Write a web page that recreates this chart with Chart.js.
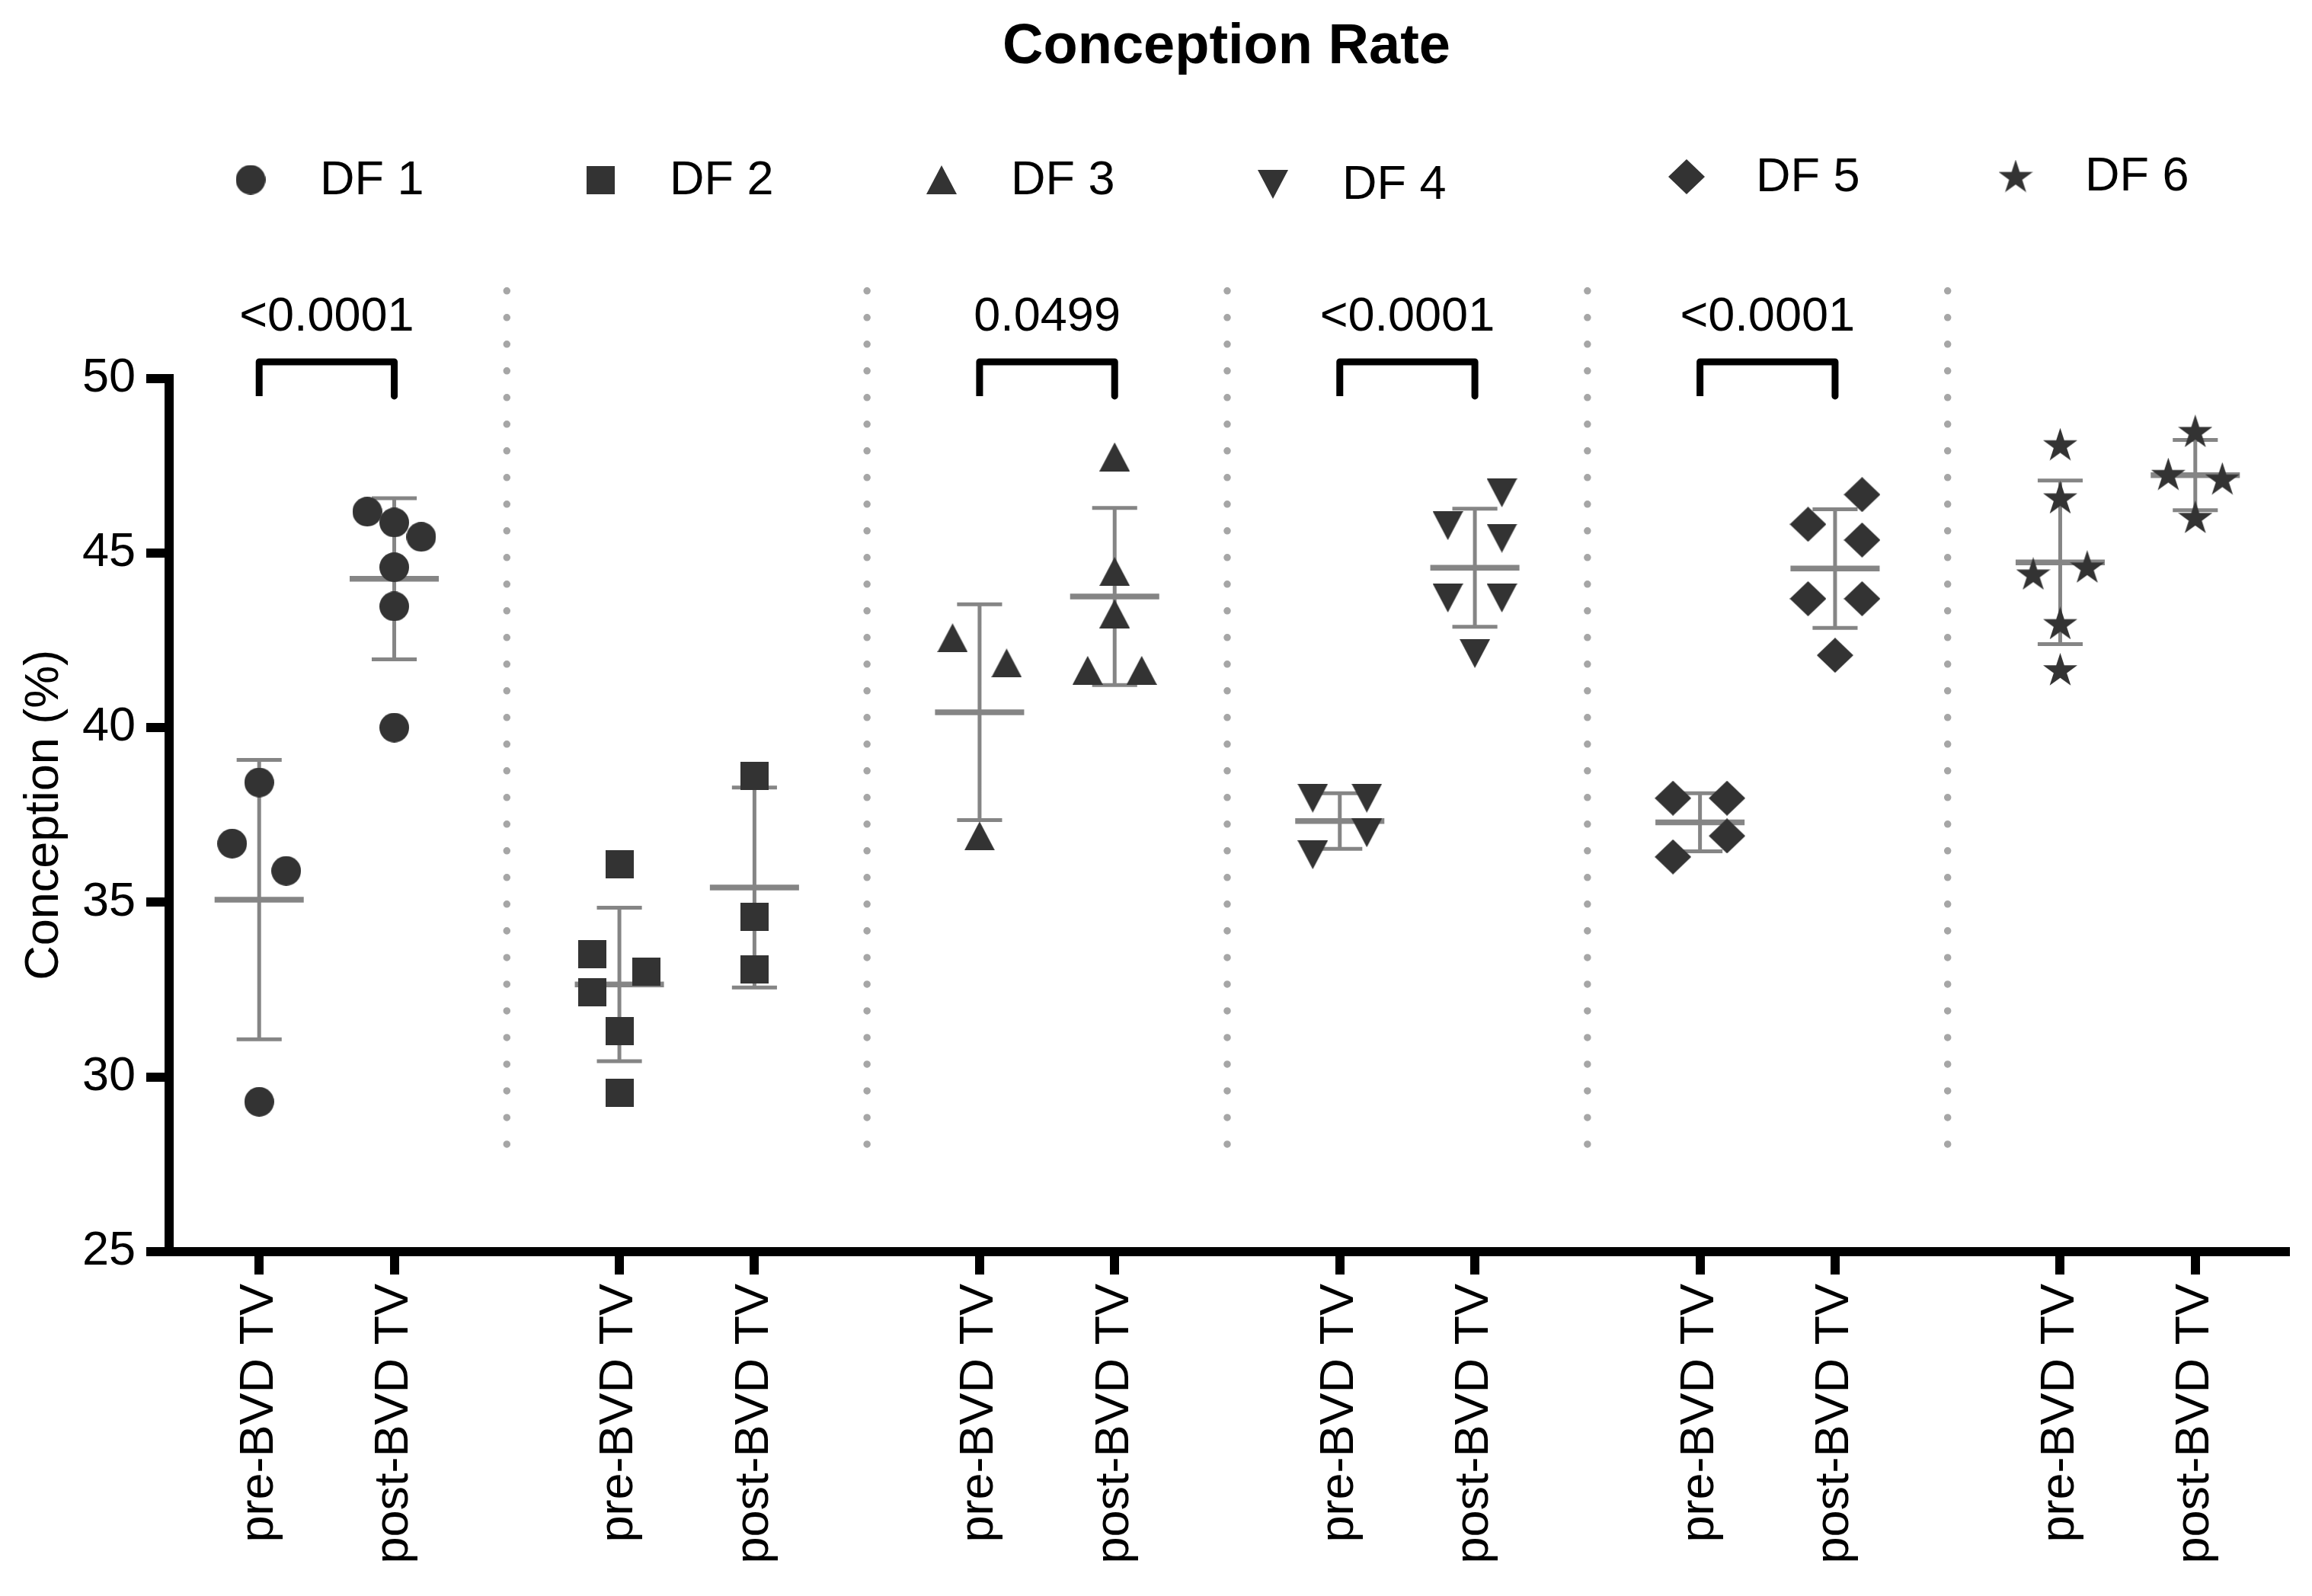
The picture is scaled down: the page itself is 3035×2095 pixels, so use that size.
<!DOCTYPE html>
<html>
<head>
<meta charset="utf-8">
<title>Conception Rate</title>
<script src="https://cdn.jsdelivr.net/npm/chart.js@4.4.1/dist/chart.umd.min.js"></script>
<style>
    html, body { margin: 0; padding: 0; background: #ffffff; }
    #wrap { width: 3035px; height: 2095px; }
</style>
</head>
<body>
<div id="wrap"><canvas id="conceptionChart"></canvas></div>
<script>
// Groups, axis labels and p-values
const groupNames = ["DF 1", "DF 2", "DF 3", "DF 4", "DF 5", "DF 6"];
const tickLabels = ["pre-BVD TV", "post-BVD TV"];
const pValues = ["<0.0001", "", "0.0499", "<0.0001", "<0.0001", ""];

// Conception (%) per farm
const preValues = [
    [36.68, 38.43, 35.90, 29.29],
    [36.08, 33.51, 32.43, 33.02, 31.31, 29.54],
    [42.57, 41.85, 36.90],
    [37.98, 37.98, 36.99, 36.36],
    [37.98, 37.98, 36.90, 36.30],
    [48.11, 46.59, 44.41, 44.61, 42.99, 41.67]
];
const postValues = [
    [46.18, 45.87, 45.46, 44.59, 43.47, 40.00],
    [38.61, 34.59, 33.07],
    [47.75, 44.47, 43.26, 41.64, 41.64],
    [46.72, 45.78, 45.42, 43.71, 43.71, 42.12],
    [46.67, 45.82, 45.37, 43.69, 43.69, 42.07],
    [48.49, 47.26, 47.13, 46.03]
];
// horizontal scatter of the dots around their column
const preJitter = [
    [-0.6, 0, 0.6, 0],
    [0, -0.6, -0.6, 0.6, 0, 0],
    [-0.6, 0.6, 0],
    [-0.6, 0.6, 0.6, -0.6],
    [-0.6, 0.6, 0.6, -0.6],
    [0, 0, -0.6, 0.6, 0, 0]
];
const postJitter = [
    [-0.6, 0, 0.6, 0, 0, 0],
    [0, 0, 0],
    [0, 0, 0, -0.6, 0.6],
    [0.6, -0.6, 0.6, -0.6, 0.6, 0],
    [0.6, -0.6, 0.6, -0.6, 0.6, 0],
    [0, -0.6, 0.6, 0]
];

// layout of the x axis (in axis units)
const GROUP_STEP = 8;
const POST_OFFSET = 3;
const FONT = "'Liberation Sans', Arial, Helvetica, sans-serif";
const MARK = "#333333";
const BAR = "#858585";

function mean(a) { return a.reduce((s, v) => s + v, 0) / a.length; }
function sd(a) {
    const m = mean(a);
    return Math.sqrt(a.reduce((s, v) => s + (v - m) * (v - m), 0) / (a.length - 1));
}

// filled marker shapes as small canvases
function makeMarker(shape) {
    const sizes = { circle: [39, 39], square: [37, 37], triangle: [40, 38], triangleDown: [40, 38], diamond: [48, 46], star: [45, 43] };
    const [w, h] = sizes[shape];
    const c = document.createElement("canvas");
    c.width = w; c.height = h;
    const ctx = c.getContext("2d");
    ctx.fillStyle = MARK;
    ctx.beginPath();
    if (shape === "circle") {
        ctx.arc(w / 2, h / 2, w / 2, 0, Math.PI * 2);
    } else if (shape === "square") {
        ctx.rect(0, 0, w, h);
    } else if (shape === "triangle") {
        ctx.moveTo(w / 2, 0); ctx.lineTo(w, h); ctx.lineTo(0, h);
    } else if (shape === "triangleDown") {
        ctx.moveTo(0, 0); ctx.lineTo(w, 0); ctx.lineTo(w / 2, h);
    } else if (shape === "diamond") {
        ctx.moveTo(w / 2, 0); ctx.lineTo(w, h / 2); ctx.lineTo(w / 2, h); ctx.lineTo(0, h / 2);
    } else if (shape === "star") {
        const R = w / 1.902, r = R * 0.382;
        for (let i = 0; i < 10; i++) {
            const a = -Math.PI / 2 + i * Math.PI / 5;
            const rr = i % 2 ? r : R;
            ctx.lineTo(w / 2 + rr * Math.cos(a), R + rr * Math.sin(a));
        }
    }
    ctx.closePath();
    ctx.fill();
    return c;
}
const markers = ["circle", "square", "triangle", "triangleDown", "diamond", "star"].map(makeMarker);

// dots of every farm
const pointSets = groupNames.map((name, g) => {
    const pts = [];
    preValues[g].forEach((v, i) => pts.push({ x: g * GROUP_STEP + preJitter[g][i], y: v }));
    postValues[g].forEach((v, i) => pts.push({ x: g * GROUP_STEP + POST_OFFSET + postJitter[g][i], y: v }));
    return {
        label: name,
        data: pts,
        pointStyle: markers[g],
        pointRadius: 20,
        showLine: false,
        order: 0
    };
});

// mean line and SD bars
const meanSegs = [];
const sdSegs = [];
groupNames.forEach((_, g) => {
    [[preValues[g], 0], [postValues[g], POST_OFFSET]].forEach(([vals, off]) => {
        const cx = g * GROUP_STEP + off;
        const m = mean(vals), s = sd(vals);
        meanSegs.push({ x: cx - 0.99, y: m }, { x: cx + 0.99, y: m }, { x: cx, y: null });
        sdSegs.push(
            { x: cx - 0.5, y: m + s }, { x: cx + 0.5, y: m + s }, { x: cx, y: null },
            { x: cx, y: m + s }, { x: cx, y: m - s }, { x: cx, y: null },
            { x: cx - 0.5, y: m - s }, { x: cx + 0.5, y: m - s }, { x: cx, y: null }
        );
    });
});

// dotted separators between farms
const sepSegs = [];
for (let g = 0; g < groupNames.length - 1; g++) {
    const x = g * GROUP_STEP + 5.5;
    sepSegs.push({ x: x, y: 52.5 }, { x: x, y: 27.57 }, { x: x, y: null });
}

// significance brackets
const bracketSegs = [];
pValues.forEach((p, g) => {
    if (!p) return;
    const x0 = g * GROUP_STEP, x1 = g * GROUP_STEP + POST_OFFSET;
    bracketSegs.push({ x: x0, y: 49.49 }, { x: x0, y: 50.47 }, { x: x1, y: 50.47 }, { x: x1, y: 49.49 }, { x: x0, y: null });
});

const tickPositions = [];
groupNames.forEach((_, g) => tickPositions.push(g * GROUP_STEP, g * GROUP_STEP + POST_OFFSET));

const lineSet = (data, color, width, order, extra) => Object.assign({
    label: "",
    data: data,
    showLine: true,
    pointRadius: 0,
    borderColor: color,
    borderWidth: width,
    clip: false,
    order: order
}, extra || {});

// title, legend and p-value text
const decorPlugin = {
    id: "decor",
    afterDraw(chart) {
        const ctx = chart.ctx;
        ctx.save();
        ctx.fillStyle = "#000";
        ctx.textBaseline = "middle";
        ctx.textAlign = "center";
        ctx.font = "bold 74px " + FONT;
        ctx.fillText("Conception Rate", 1610, 63);

        const legendX = [329, 788, 1236, 1671, 2214, 2646];
        const legendY = [236, 236, 236, 242, 232, 231];
        ctx.font = "63px " + FONT;
        ctx.textAlign = "left";
        groupNames.forEach((name, g) => {
            const m = markers[g];
            ctx.drawImage(m, legendX[g] - m.width / 2, legendY[g] - m.height / 2);
            ctx.fillText(name, legendX[g] + 91, legendY[g] + 2);
        });

        const xs = chart.scales.x, ys = chart.scales.y;
        ctx.textAlign = "center";
        pValues.forEach((p, g) => {
            if (!p) return;
            ctx.fillText(p, xs.getPixelForValue(g * GROUP_STEP + POST_OFFSET / 2), ys.getPixelForValue(51.74));
        });
        ctx.restore();
    }
};

Chart.defaults.font.family = FONT;

new Chart(document.getElementById("conceptionChart"), {
    type: "scatter",
    data: {
        datasets: [
            ...pointSets,
            lineSet(meanSegs, BAR, 7.5, 1),
            lineSet(sdSegs, BAR, 5, 1),
            lineSet(bracketSegs, "#000", 9, 1, { borderJoinStyle: "round" }),
            lineSet(sepSegs, "#a6a6a6", 9.5, 2, { borderDash: [0.001, 35], borderCapStyle: "round" })
        ]
    },
    options: {
        responsive: true,
        maintainAspectRatio: false,
        devicePixelRatio: 1,
        animation: false,
        events: [],
        layout: { padding: { top: 496.5, right: 35, bottom: 0, left: 0 } },
        plugins: {
            legend: { display: false },
            tooltip: { enabled: false },
            title: { display: false }
        },
        scales: {
            x: {
                type: "linear",
                min: -2,
                max: 45,
                afterBuildTicks: (scale) => { scale.ticks = tickPositions.map(v => ({ value: v })); },
                afterFit: (scale) => { scale.height = 452; },
                ticks: {
                    autoSkip: false,
                    minRotation: 90,
                    maxRotation: 90,
                    padding: 12,
                    color: "#000",
                    font: { size: 63 },
                    callback: (value, index) => tickLabels[index % 2]
                },
                grid: { drawOnChartArea: false, drawTicks: true, tickLength: 30, tickWidth: 12, lineWidth: 12, tickColor: "#000", color: "#000" },
                border: { display: true, color: "#000", width: 12 }
            },
            y: {
                min: 25,
                max: 50,
                afterFit: (scale) => { scale.width = 222; },
                ticks: { stepSize: 5, padding: 14, color: "#000", font: { size: 63 } },
                grid: { drawOnChartArea: false, drawTicks: true, tickLength: 30, tickWidth: 12, lineWidth: 12, tickColor: "#000", color: "#000" },
                border: { display: true, color: "#000", width: 12 },
                title: {
                    display: true,
                    text: "Conception (%)",
                    color: "#000",
                    font: { size: 63 },
                    padding: { top: 21, bottom: 0 }
                }
            }
        }
    },
    plugins: [decorPlugin]
});
</script>
</body>
</html>
